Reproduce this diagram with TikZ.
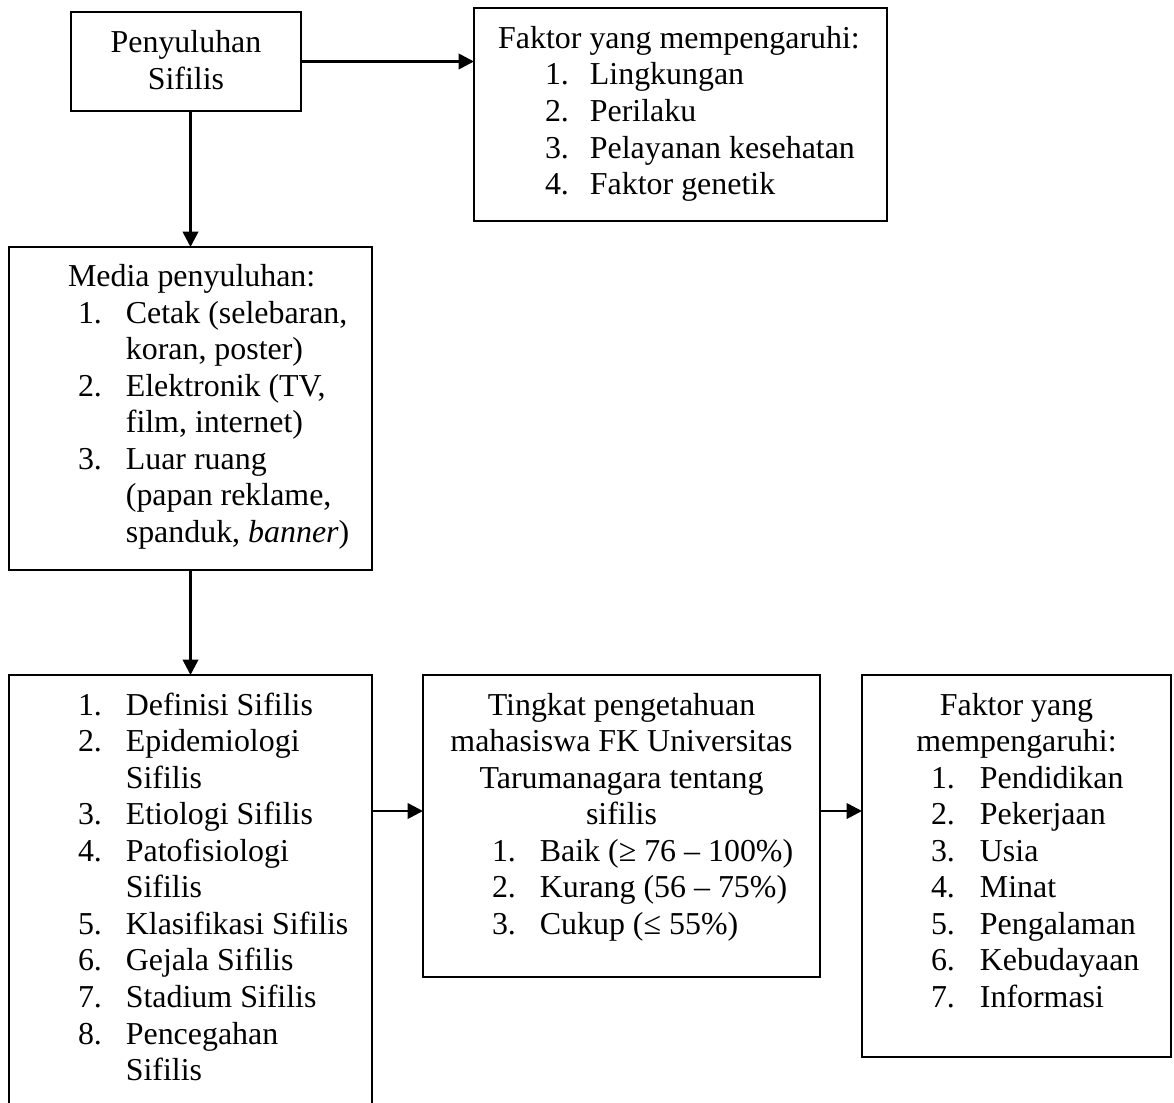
\documentclass[tikz,border=0pt]{standalone}
\usepackage{fontspec}
\setmainfont{Liberation Serif}
\usetikzlibrary{arrows.meta,fit}
\begin{document}
\begin{tikzpicture}[x=0.376pt,y=-0.376pt,
  box/.style={draw=black,line width=0.45pt,inner sep=0pt,outer sep=0pt,rectangle},
  txt/.style={inner sep=0pt,outer sep=0pt,font=\fontsize{12pt}{13.75pt}\selectfont},
  arr/.style={line width=1pt,-{Triangle[length=5.8pt,width=5.8pt]}}]
\clip (0,0) rectangle (1174,1102);
\fill[white] (0,0) rectangle (1174,1102);
% boxes
\node[box,fit={(71,12) (301,111)}] (b1) {};
\node[box,fit={(474,8) (887,221)}] (b2) {};
\node[box,fit={(9,247) (372,570)}] (b3) {};
\node[box,fit={(9,675) (372,1115)}] (b4) {};
\node[box,fit={(423,675) (820,977)}] (b5) {};
\node[box,fit={(862,675) (1171,1057)}] (b6) {};
% texts
\node[txt,anchor=base] (t1) at (186,53) {\begin{tabular}[t]{@{}c@{}}Penyuluhan\\Sifilis\end{tabular}};
\node[txt,anchor=base] (t2h) at (679,49) {Faktor yang mempengaruhi:};
\node[txt,anchor=base west] (t2l) at (545,85) {\begin{tabular}[t]{@{}p{16.9pt}@{}l@{}}
1. & Lingkungan\\
2. & Perilaku\\
3. & Pelayanan kesehatan\\
4. & Faktor genetik\end{tabular}};
\node[txt,anchor=base west] (t3h) at (68,287) {Media penyuluhan:};
\node[txt,anchor=base west] (t3l) at (78,323) {\begin{tabular}[t]{@{}p{18pt}@{}l@{}}
1. & Cetak (selebaran,\\
 & koran, poster)\\
2. & Elektronik (TV,\\
 & film, internet)\\
3. & Luar ruang\\
 & (papan reklame,\\
 & spanduk, \textit{banner})\end{tabular}};
\node[txt,anchor=base west] (t4l) at (78,715) {\begin{tabular}[t]{@{}p{18pt}@{}l@{}}
1. & Definisi Sifilis\\
2. & Epidemiologi\\
 & Sifilis\\
3. & Etiologi Sifilis\\
4. & Patofisiologi\\
 & Sifilis\\
5. & Klasifikasi Sifilis\\
6. & Gejala Sifilis\\
7. & Stadium Sifilis\\
8. & Pencegahan\\
 & Sifilis\end{tabular}};
\node[txt,anchor=base] (t5h) at (621.5,715) {\begin{tabular}[t]{@{}c@{}}Tingkat pengetahuan\\mahasiswa FK Universitas\\Tarumanagara tentang\\sifilis\end{tabular}};
\node[txt,anchor=base west] (t5l) at (492,861) {\begin{tabular}[t]{@{}p{18pt}@{}l@{}}
1. & Baik (≥ 76 – 100\%)\\
2. & Kurang (56 – 75\%)\\
3. & Cukup (≤ 55\%)\end{tabular}};
\node[txt,anchor=base] (t6h) at (1016.5,715) {\begin{tabular}[t]{@{}c@{}}Faktor yang\\mempengaruhi:\end{tabular}};
\node[txt,anchor=base west] (t6l) at (931,788) {\begin{tabular}[t]{@{}p{18.4pt}@{}l@{}}
1. & Pendidikan\\
2. & Pekerjaan\\
3. & Usia\\
4. & Minat\\
5. & Pengalaman\\
6. & Kebudayaan\\
7. & Informasi\end{tabular}};
% connectors
\coordinate (m) at (0,811);
\draw[arr] (b1.east) -- (b1.east -| b2.west);
\draw[arr] (b1.south -| b3.north) -- (b3.north);
\draw[arr] (b3.south) -- (b4.north);
\draw[arr] (b4.east |- m) -- (b5.west |- m);
\draw[arr] (b5.east |- m) -- (b6.west |- m);
\end{tikzpicture}
\end{document}
